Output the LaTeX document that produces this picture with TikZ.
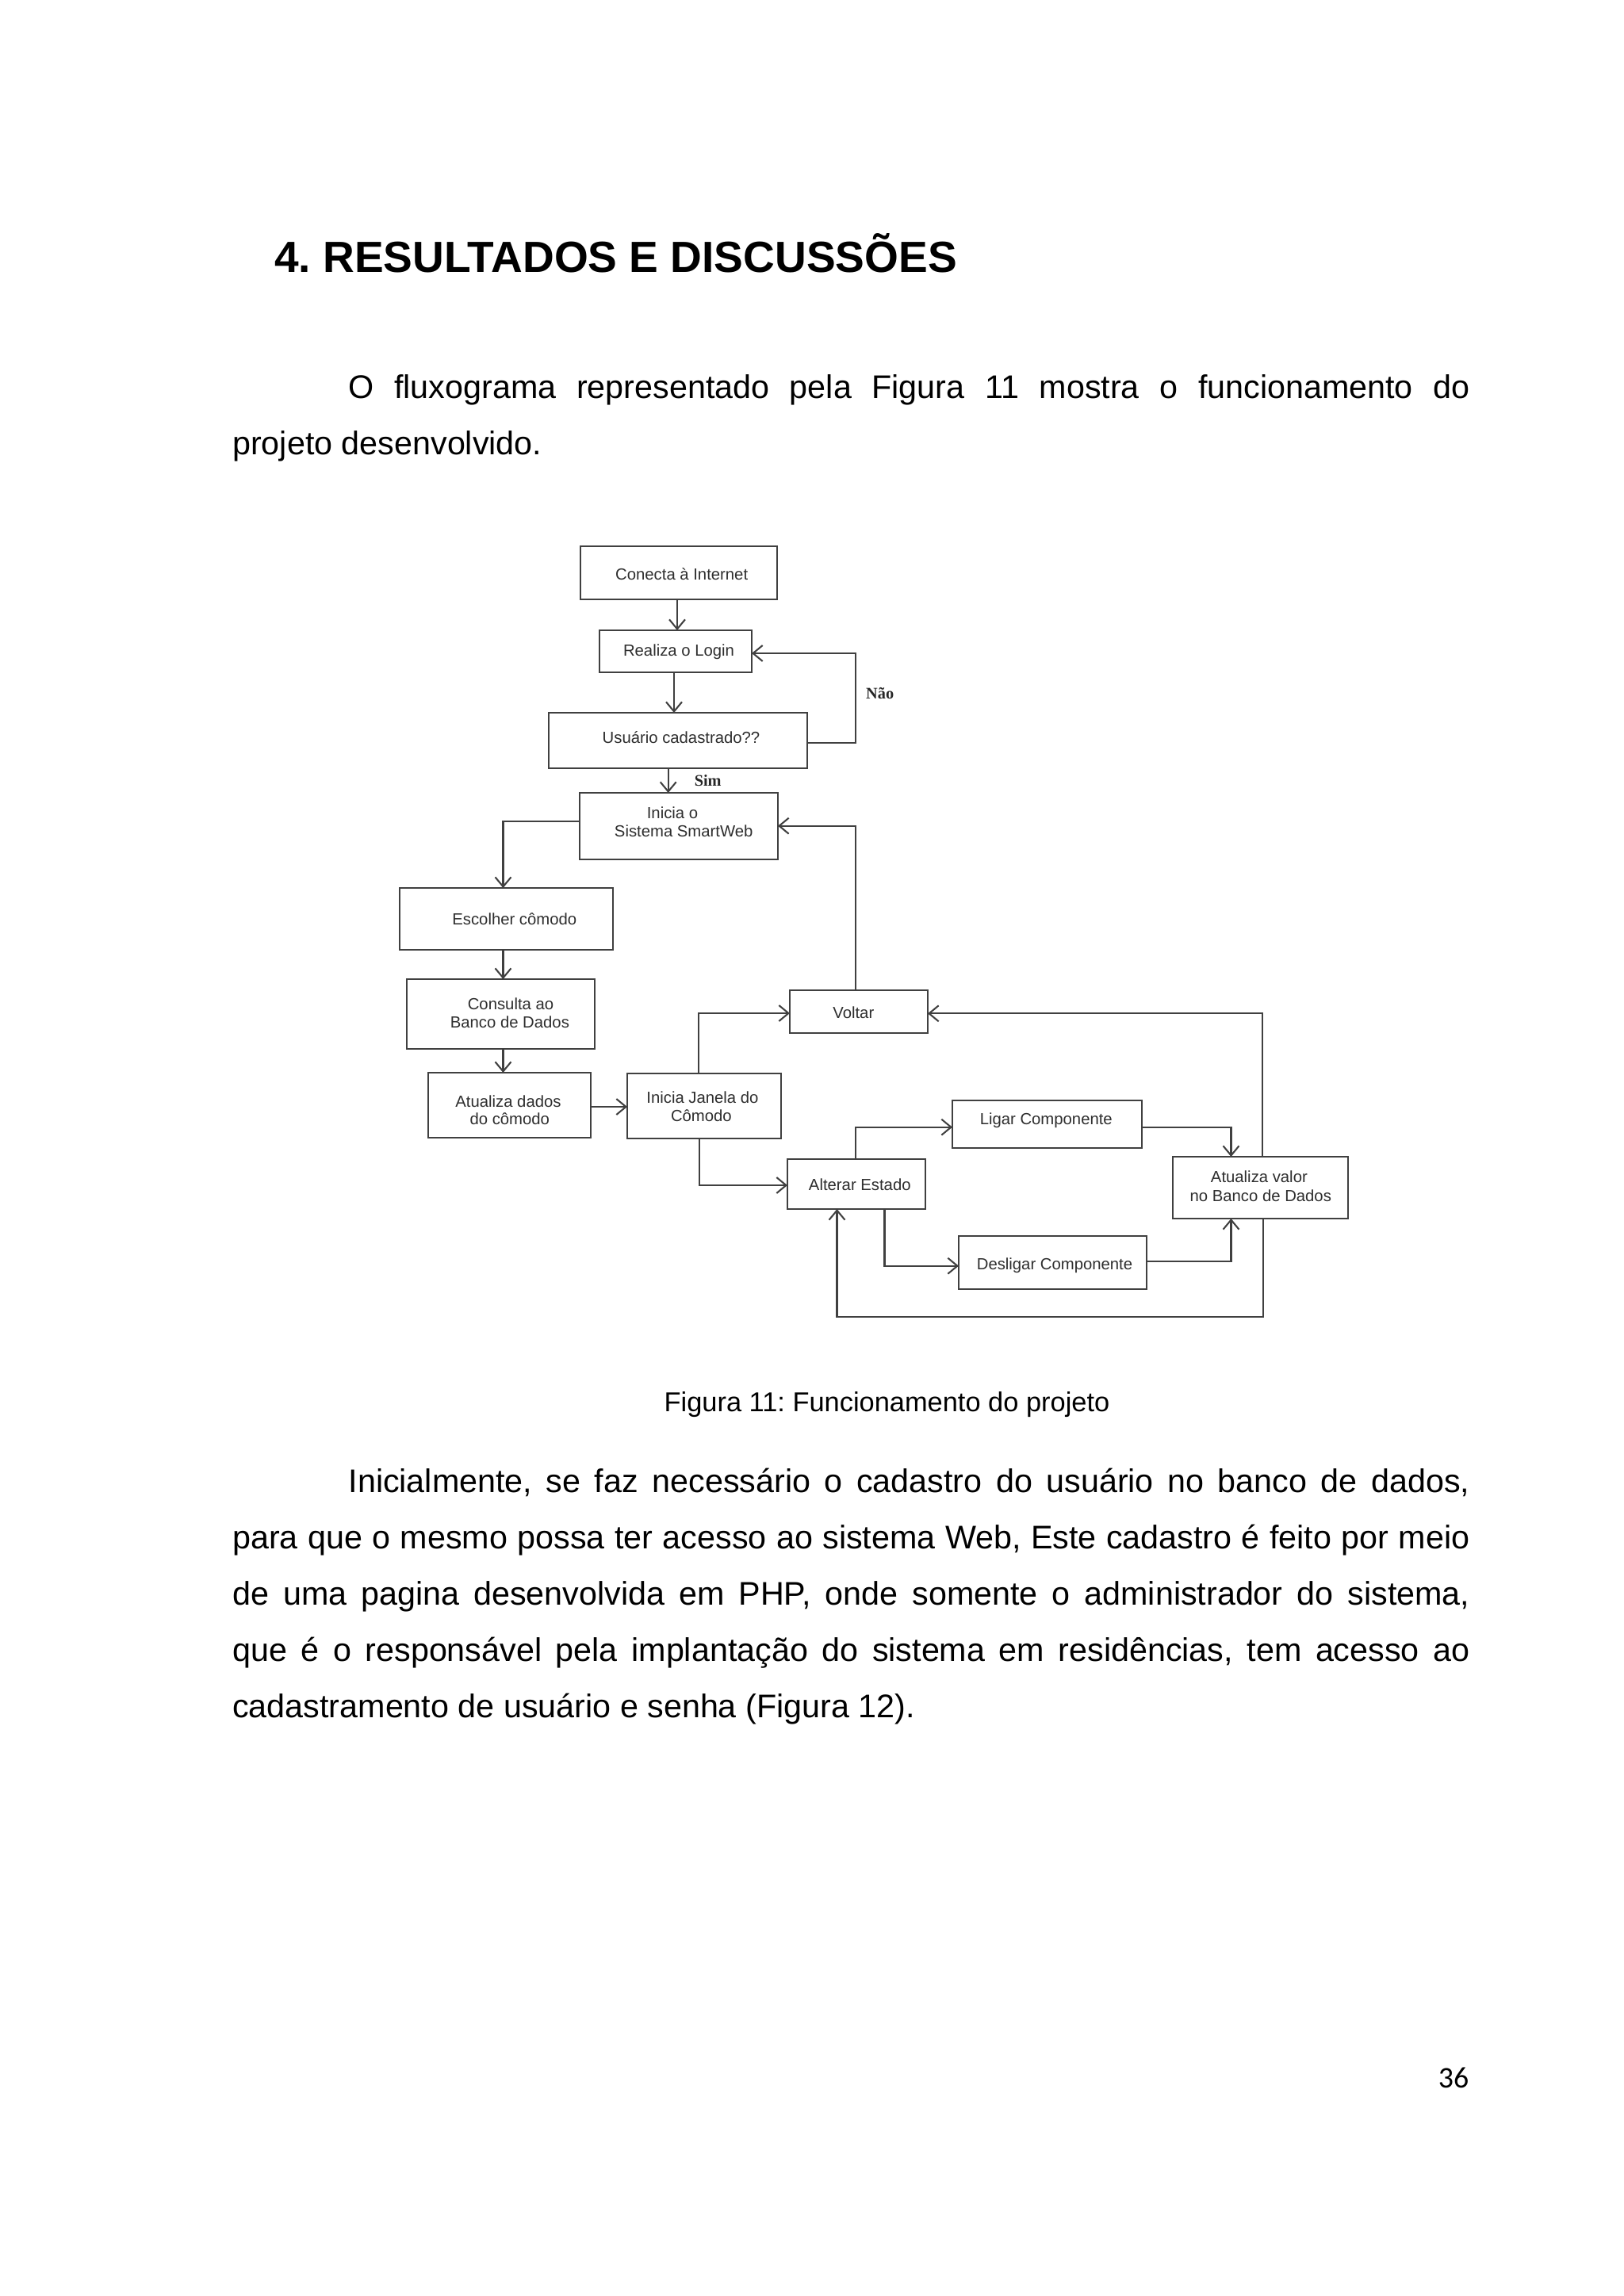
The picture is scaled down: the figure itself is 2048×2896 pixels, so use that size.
\documentclass[tikz,border=0pt]{standalone}
\usepackage{fontspec}
\setmainfont{Liberation Sans}
\newfontfamily\tnrfont{Liberation Serif}
\newfontfamily\pagefont{Carlito}
\usetikzlibrary{arrows.meta}
\frenchspacing
\newcommand\fcsize{\fontsize{5.9bp}{7bp}\selectfont}
\newcommand\bodypara[1]{\parbox[t]{453.5bp}{\fontsize{12bp}{20.65bp}\selectfont\frenchspacing
  \hyphenpenalty=10000 \exhyphenpenalty=10000 \tolerance=10000 \hbadness=10000
  \setlength\parindent{1.5cm}\indent #1}}
\tikzset{
  box/.style={rectangle, draw=black!75, line width=0.6bp, inner sep=0pt, outer sep=0pt},
  arr/.style={draw=black!75, line width=0.6bp, -{Straight Barb[length=3.5bp,width=5.8bp]}},
  lbl/.style={anchor=base, inner sep=0pt, text=black!82, font=\fcsize},
  yn/.style={anchor=base, inner sep=0pt, text=black!85, font=\tnrfont\bfseries\fcsize},
  pagetext/.style={inner sep=0pt, text=black},
}
\begin{document}
\begin{tikzpicture}[x=0.29066bp, y=-0.29066bp]
\useasboundingbox (0,0) rectangle (2048,2896);
\fill[white] (0,0) rectangle (2048,2896);

% page text
\node[pagetext, anchor=base west, font=\bfseries\fontsize{16bp}{19bp}\selectfont] (head) at (345.6,343.3) {4. RESULTADOS E DISCUSSÕES};
\node[pagetext, anchor=base west] (par1) at (292.6,502) {\bodypara{O fluxograma representado pela Figura 11 mostra o funcionamento do\linebreak projeto desenvolvido.}};
\node[pagetext, anchor=base west, font=\fontsize{10bp}{12bp}\selectfont] (caption) at (837,1780) {Figura 11: Funcionamento do projeto};
\node[pagetext, anchor=base west] (par2) at (292.6,1882) {\bodypara{Inicialmente, se faz necessário o cadastro do usuário no banco de dados,\linebreak para que o mesmo possa ter acesso ao sistema Web, Este cadastro é feito por meio\linebreak de uma pagina desenvolvida em PHP, onde somente o administrador do sistema,\linebreak que é o responsável pela implantação do sistema em residências, tem acesso ao\linebreak cadastramento de usuário e senha (Figura 12).}};
\node[pagetext, anchor=base east, font=\pagefont\fontsize{11bp}{13bp}\selectfont] (pagenum) at (1853,2633.3) {36};

% boxes
\node[box, minimum width=248*0.29066bp, minimum height=67*0.29066bp] (conecta) at (856,722.5) {};
\node[box, minimum width=192*0.29066bp, minimum height=53*0.29066bp] (login) at (852,821.5) {};
\node[box, minimum width=326*0.29066bp, minimum height=70*0.29066bp] (usuario) at (855,934) {};
\node[box, minimum width=250*0.29066bp, minimum height=84*0.29066bp] (inicia) at (856,1042) {};
\node[box, minimum width=269*0.29066bp, minimum height=78*0.29066bp] (escolher) at (638.5,1159) {};
\node[box, minimum width=237*0.29066bp, minimum height=88*0.29066bp] (consulta) at (631.5,1279) {};
\node[box, minimum width=205*0.29066bp, minimum height=82*0.29066bp] (atualiza) at (642.5,1394) {};
\node[box, minimum width=194*0.29066bp, minimum height=82*0.29066bp] (janela) at (888,1395) {};
\node[box, minimum width=174*0.29066bp, minimum height=54*0.29066bp] (voltar) at (1083,1276) {};
\node[box, minimum width=239*0.29066bp, minimum height=60*0.29066bp] (ligar) at (1320.5,1418) {};
\node[box, minimum width=174*0.29066bp, minimum height=63*0.29066bp] (alterar) at (1080,1493.5) {};
\node[box, minimum width=221*0.29066bp, minimum height=78*0.29066bp] (atvalor) at (1589.5,1498) {};
\node[box, minimum width=237*0.29066bp, minimum height=67*0.29066bp] (desligar) at (1327.5,1592.5) {};

% labels
\node[lbl] (t-conecta) at (859.7,731.7) {Conecta à Internet};
\node[lbl] (t-login) at (856,827.7) {Realiza o Login};
\node[lbl] (t-usuario) at (859,937.7) {Usuário cadastrado??};
\node[lbl] (t-inicia1) at (848,1032.3) {Inicia o};
\node[lbl] (t-inicia2) at (862.2,1055.7) {Sistema SmartWeb};
\node[lbl] (t-escolher) at (648.8,1166.3) {Escolher cômodo};
\node[lbl] (t-consulta1) at (644,1273.3) {Consulta ao};
\node[lbl] (t-consulta2) at (642.9,1296) {Banco de Dados};
\node[lbl] (t-atualiza1) at (641,1396) {Atualiza dados};
\node[lbl] (t-atualiza2) at (642.8,1418.3) {do cômodo};
\node[lbl] (t-janela1) at (886,1391.7) {Inicia Janela do};
\node[lbl] (t-janela2) at (884.4,1414.3) {Cômodo};
\node[lbl] (t-voltar) at (1076.3,1284.3) {Voltar};
\node[lbl] (t-ligar) at (1319.3,1418.3) {Ligar Componente};
\node[lbl] (t-alterar) at (1084.3,1501.7) {Alterar Estado};
\node[lbl] (t-atvalor1) at (1587.9,1491.7) {Atualiza valor};
\node[lbl] (t-atvalor2) at (1589.8,1515) {no Banco de Dados};
\node[lbl] (t-desligar) at (1330,1601.7) {Desligar Componente};
\node[yn] (nao) at (1109.7,881.7) {Não};
\node[yn] (sim) at (892.7,991.7) {Sim};

% bend coordinates
\coordinate (a1) at (854,0);
\coordinate (a2) at (850,0);
\coordinate (a5) at (842.7,0);
\coordinate (nao1) at (1079,937);
\coordinate (nao2) at (1079,824);
\coordinate (e1) at (634.5,1035.7);
\coordinate (h1) at (0,1396);
\coordinate (i1) at (881,1278);
\coordinate (j1) at (1079,1041.7);
\coordinate (k1) at (882,1495);
\coordinate (l1) at (1079,1421.7);
\coordinate (m1) at (1552.5,1421.7);
\coordinate (n1) at (1115.5,1596.7);
\coordinate (o1) at (1552.5,1591);
\coordinate (p1) at (1593,1661);
\coordinate (p2) at (1055.5,1661);
\coordinate (q1) at (1592,1278.3);

% connectors
\draw[arr] (conecta.south -| a1) -- (login.north -| a1);
\draw[arr] (login.south -| a2) -- (usuario.north -| a2);
\draw[arr] (usuario.east |- nao1) -- (nao1) -- (nao2) -- (login.east |- nao2);
\draw[arr] (usuario.south -| a5) -- (inicia.north -| a5);
\draw[arr] (inicia.west |- e1) -- (e1) -- (escolher.north -| e1);
\draw[arr] (escolher.south -| e1) -- (consulta.north -| e1);
\draw[arr] (consulta.south -| e1) -- (atualiza.north -| e1);
\draw[arr] (atualiza.east |- h1) -- (janela.west |- h1);
\draw[arr] (janela.north -| i1) -- (i1) -- (voltar.west |- i1);
\draw[arr] (voltar.north -| j1) -- (j1) -- (inicia.east |- j1);
\draw[arr] (janela.south -| k1) -- (k1) -- (alterar.west |- k1);
\draw[arr] (alterar.north -| l1) -- (l1) -- (ligar.west |- l1);
\draw[arr] (ligar.east |- m1) -- (m1) -- (atvalor.north -| m1);
\draw[arr] (alterar.south -| n1) -- (n1) -- (desligar.west |- n1);
\draw[arr] (desligar.east |- o1) -- (o1) -- (atvalor.south -| o1);
\draw[arr] (atvalor.south -| p1) -- (p1) -- (p2) -- (alterar.south -| p2);
\draw[arr] (atvalor.north -| q1) -- (q1) -- (voltar.east |- q1);
\end{tikzpicture}
\end{document}
